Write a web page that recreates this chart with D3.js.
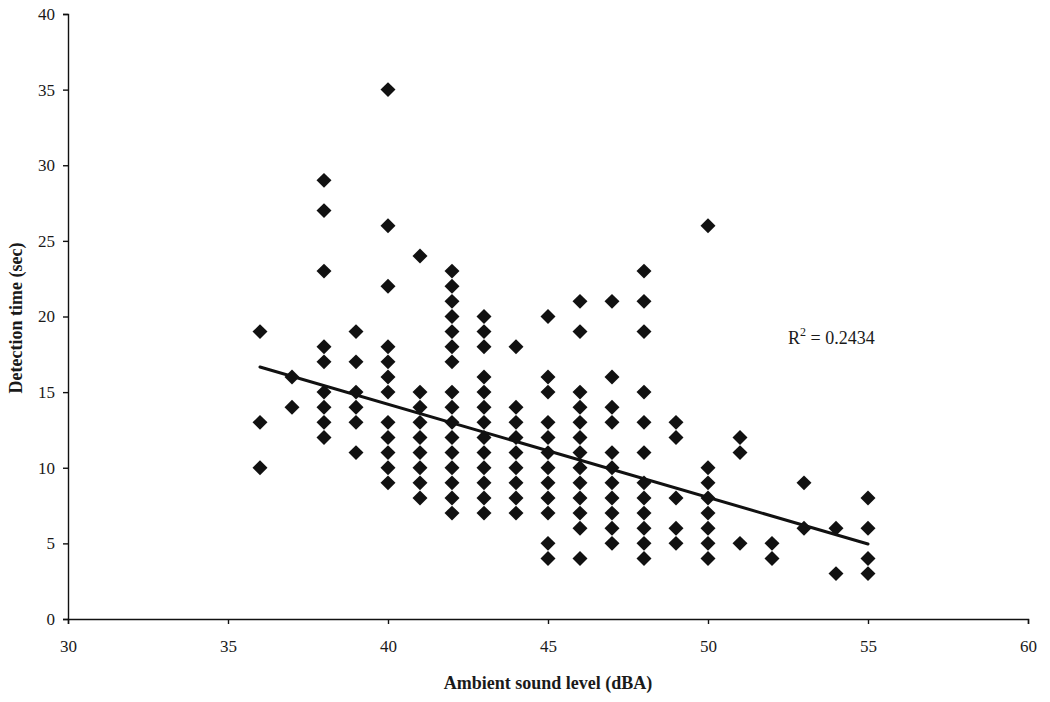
<!DOCTYPE html>
<html>
<head>
<meta charset="utf-8">
<script src="https://cdn.jsdelivr.net/npm/d3@7"></script>
<style>
  body { margin: 0; background: #fff; }
  text { font-family: "Liberation Serif", "Times New Roman", serif; fill: #1a1a1a; }
</style>
</head>
<body>
<svg id="chart" width="1050" height="702"></svg>
<script>
// ambient sound level (dBA) for each column of points
var soundLevels = [36, 37, 38, 39, 40, 41, 42, 43, 44, 45, 46, 47, 48, 49, 50, 51, 52, 53, 54, 55];
// detection times (sec) observed at each sound level
var detectionTimes = [
  [19, 13, 10],
  [16, 14],
  [29, 27, 23, 18, 17, 15, 14, 13, 12],
  [19, 17, 15, 14, 13, 11],
  [35, 26, 22, 18, 17, 16, 15, 13, 12, 11, 10, 9],
  [24, 15, 14, 13, 12, 11, 10, 9, 8],
  [23, 22, 21, 20, 19, 18, 17, 15, 14, 13, 12, 11, 10, 9, 8, 7],
  [20, 19, 18, 16, 15, 14, 13, 12, 11, 10, 9, 8, 7],
  [18, 14, 13, 12, 11, 10, 9, 8, 7],
  [20, 16, 15, 13, 12, 11, 10, 9, 8, 7, 5, 4],
  [21, 19, 15, 14, 13, 12, 11, 10, 9, 8, 7, 6, 4],
  [21, 16, 14, 13, 11, 10, 9, 8, 7, 6, 5],
  [23, 21, 19, 15, 13, 11, 9, 8, 7, 6, 5, 4],
  [13, 12, 8, 6, 5],
  [26, 10, 9, 8, 7, 6, 5, 4],
  [12, 11, 5],
  [5, 4],
  [9, 6],
  [6, 3],
  [8, 6, 4, 3]
];
var xTicks = [30, 35, 40, 45, 50, 55, 60];
var yTicks = [0, 5, 10, 15, 20, 25, 30, 35, 40];
// trend line (the original fit includes overlapping points)
var trendSlope = -0.616;
var trendIntercept = 38.84;
var rSquaredLabel = "0.2434";

var svg = d3.select("#chart");

var x = d3.scaleLinear().domain([30, 60]).range([68, 1028]);
var y = d3.scaleLinear().domain([0, 40]).range([619, 14]);

// flatten into points
var points = [];
soundLevels.forEach(function(lvl, i) {
  detectionTimes[i].forEach(function(t) {
    points.push({x: lvl, y: t});
  });
});
var xMin = d3.min(soundLevels), xMax = d3.max(soundLevels);

// axes
var yAxis = d3.axisLeft(y).tickValues(yTicks).tickSize(5).tickPadding(8);
var xAxis = d3.axisBottom(x).tickValues(xTicks).tickSize(5).tickPadding(16);

var gy = svg.append("g").attr("transform", "translate(" + x(30) + ",0)").call(yAxis);
var gx = svg.append("g").attr("transform", "translate(0," + y(0) + ")").call(xAxis);
[gx, gy].forEach(function(g) {
  g.selectAll("path.domain").attr("stroke", "#111").attr("stroke-width", 1.4);
  g.selectAll(".tick line").attr("stroke", "#111").attr("stroke-width", 1.4);
  g.selectAll(".tick text").style("font-size", "17px").style("font-family", '"Liberation Serif", serif').attr("fill", "#1a1a1a");
});

// points
var diamond = d3.symbol().type(d3.symbolSquare).size(112);
svg.append("g").selectAll("path")
  .data(points)
  .enter().append("path")
  .attr("d", diamond)
  .attr("transform", function(d) { return "translate(" + x(d.x) + "," + y(d.y) + ") rotate(45)"; })
  .attr("fill", "#111");

// trend line
svg.append("line")
  .attr("x1", x(xMin)).attr("y1", y(trendIntercept + trendSlope * xMin))
  .attr("x2", x(xMax)).attr("y2", y(trendIntercept + trendSlope * xMax))
  .attr("stroke", "#111").attr("stroke-width", 3).attr("stroke-linecap", "round");

// R squared label
var rt = svg.append("text").attr("x", 788).attr("y", 344).style("font-size", "18px");
rt.append("tspan").text("R");
rt.append("tspan").attr("dy", -8).style("font-size", "12px").text("2");
rt.append("tspan").attr("dy", 8).text(" = " + rSquaredLabel);

// axis titles
svg.append("text")
  .attr("x", 548).attr("y", 689)
  .attr("text-anchor", "middle")
  .style("font-size", "18px").style("font-weight", "bold")
  .text("Ambient sound level (dBA)");

svg.append("text")
  .attr("transform", "translate(22,318) rotate(-90)")
  .attr("text-anchor", "middle")
  .style("font-size", "18px").style("font-weight", "bold")
  .text("Detection time (sec)");
</script>
</body>
</html>
